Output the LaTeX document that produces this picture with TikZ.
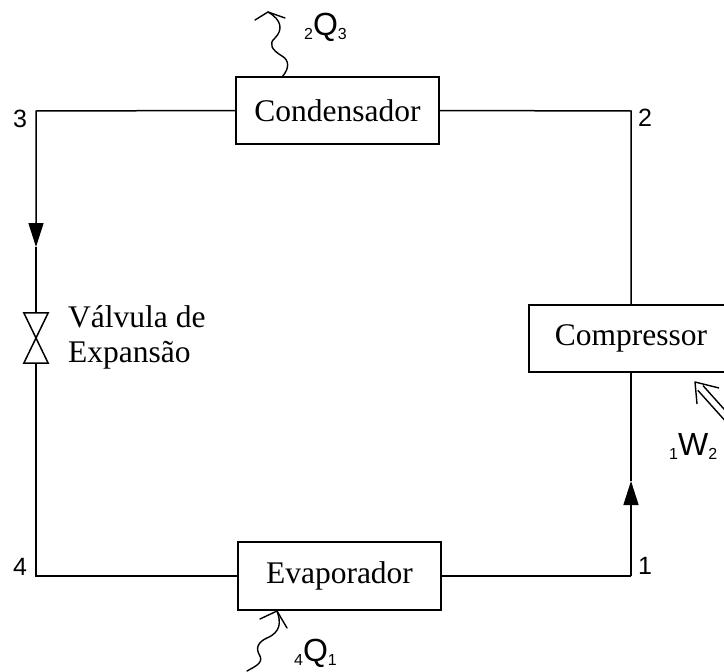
\documentclass[tikz,border=0pt]{standalone}
\usepackage{fontspec}
\setmainfont{Liberation Serif}
\newfontfamily\arial{Liberation Sans}
\usetikzlibrary{arrows.meta}
\begin{document}
\begin{tikzpicture}[x=1pt,y=-1pt,
  box/.style={draw, line width=1.5pt, inner sep=0pt, font=\fontsize{31.5}{36}\selectfont},
  pipe/.style={line width=1.5pt},
  flow/.style={pipe, -{Triangle[length=24pt,width=15pt]}},
  num/.style={font=\arial\fontsize{25}{25}\selectfont, inner sep=0pt},
  qlab/.style={font=\arial\fontsize{32}{32}\selectfont, inner sep=0pt, anchor=base west},
  heat/.style={line width=1.4pt, line cap=round, line join=round},
]
\useasboundingbox (0,0) rectangle (724,672);
\clip (0,0) rectangle (724,672);
\fill[white] (0,0) rectangle (724,672);
\newcommand{\sbs}[1]{\raisebox{-4pt}{\fontsize{16}{16}\selectfont #1}}

% components
\node[box, minimum width=203pt, minimum height=67pt] (cond) at (337.5,110.5) {Condensador};
\node[box, minimum width=203pt, minimum height=68pt] (evap) at (339.5,576) {Evaporador};
\node[box, minimum width=204pt, minimum height=67pt] (comp) at (631,338.5) {Compressor};
\node[inner sep=0pt, minimum width=24pt, minimum height=50pt] (valve) at (36,338) {};
\draw[pipe, line join=miter] (valve.north west) -- (valve.north east) -- (valve.south west) -- (valve.south east) -- cycle;
\node[anchor=west, align=left, inner sep=0pt, font=\fontsize{31.5}{35}\selectfont] (vtxt) at (68,337) {Válvula de\\Expansão};

% corners
\coordinate (c3) at (36,111);
\coordinate (c2) at (631,111);
\coordinate (c1) at (631,576);
\coordinate (c4) at (36,576);
\coordinate (a3) at (36,247);
\coordinate (a1) at (631,481);

% piping
\draw[pipe] (cond.east) -- (c2) -- (comp.north);
\draw[pipe] (comp.south) -- (a1);
\draw[flow] (c1) -- (a1);
\draw[pipe] (c1) -- (evap.east);
\draw[pipe] (evap.west) -- (c4) -- (valve.south);
\draw[flow] (cond.west) -- (c3) -- (a3);
\draw[pipe] (a3) -- (valve.north);

% state numbers
\node[num] (n3) at (20,119) {3};
\node[num] (n2) at (645,118) {2};
\node[num] (n4) at (20,567) {4};
\node[num] (n1) at (645,566) {1};

% heat rejected 2Q3
\coordinate (q3s) at (282,77);
\coordinate (q3t) at (268,12);
\draw[heat] (q3s) .. controls (290,68) and (289,60) .. (282,56)
  .. controls (272,50) and (268,44) .. (275,38)
  .. controls (283,30) and (282,20) .. (q3t);
\draw[heat] (255,20) -- (q3t) -- (285,18);
\node[qlab] (Q23) at (304,35) {\sbs{2}Q\sbs{3}};

% heat absorbed 4Q1
\coordinate (q1s) at (247,671);
\coordinate (q1t) at (277,611);
\draw[heat] (q1s) .. controls (256,666) and (263,663) .. (260,656)
  .. controls (255,648) and (258,642) .. (267,638)
  .. controls (281,632) and (281,622) .. (q1t);
\draw[heat] (260,619) -- (q1t) -- (287,628);
\node[qlab] (Q41) at (294,661) {\sbs{4}Q\sbs{1}};

% work 1W2
\coordinate (wt) at (695,382);
\draw[heat, line cap=butt] (697,404) -- (wt) -- (719,388);
\draw[heat, line cap=butt] (703,385.6) -- (737.7,424.3);
\draw[heat, line cap=butt] (697.8,390.3) -- (732.5,429);
\node[qlab] (W12) at (669,455) {\sbs{1}W\sbs{2}};
\end{tikzpicture}
\end{document}
